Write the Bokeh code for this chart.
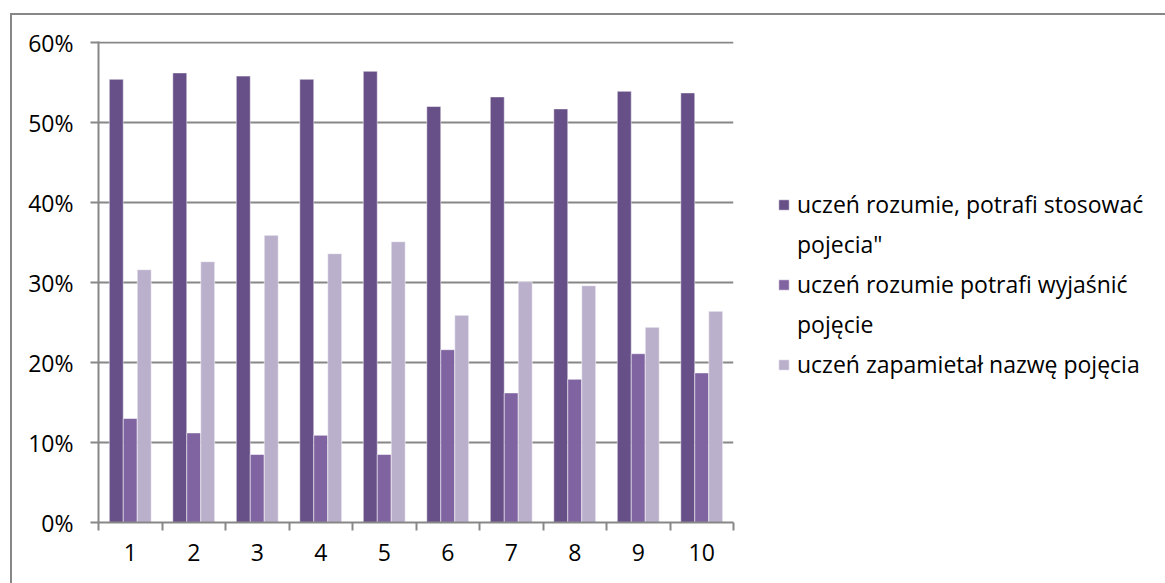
from bokeh.plotting import figure
from bokeh.models import (ColumnDataSource, Range1d, LinearAxis,
                          FixedTicker, Legend, LegendItem)
from bokeh.transform import dodge
from bokeh.embed import file_html
from bokeh.resources import INLINE

# ---- data ----
categories = ["1", "2", "3", "4", "5", "6", "7", "8", "9", "10"]
stosowac = [55.4, 56.2, 55.8, 55.4, 56.4, 52.0, 53.2, 51.7, 53.9, 53.7]
wyjasnic = [13.0, 11.2, 8.5, 10.9, 8.5, 21.6, 16.2, 17.9, 21.1, 18.7]
zapamietal = [31.6, 32.6, 35.9, 33.6, 35.1, 25.9, 30.1, 29.6, 24.4, 26.4]
y_ticks = [0, 10, 20, 30, 40, 50, 60]
y_tick_labels = ["0%", "10%", "20%", "30%", "40%", "50%", "60%"]
legend_lines = [
    ["uczeń rozumie, potrafi stosować", 'pojecia"'],
    ["uczeń rozumie potrafi wyjaśnić", "pojęcie"],
    ["uczeń zapamietał nazwę pojęcia"],
]
colors = ["#674f87", "#8064a2", "#bab0cc"]

FONT = "Open Sans"
GRAY = "#878787"

n = len(categories)
pos = list(range(1, n + 1))
src = ColumnDataSource(dict(x=pos, cat=categories, s=stosowac, w=wyjasnic, z=zapamietal))

p = figure(x_range=Range1d(0.5, n + 0.5), y_range=Range1d(0, 60.125),
           width=1152, height=568, frame_width=635, frame_height=481,
           min_border_left=86, min_border_right=431, min_border_top=26, min_border_bottom=61,
           x_axis_location=None, y_axis_location=None,
           output_backend="svg", toolbar_location=None)
p.styles = {"margin-left": "10px", "margin-top": "13px",
            "border-left": "2px solid " + GRAY, "border-top": "2px solid " + GRAY}
p.outline_line_color = None
p.background_fill_color = "white"
p.border_fill_color = "white"
p.xgrid.visible = False
p.ygrid.ticker = FixedTicker(ticks=y_ticks)
p.ygrid.grid_line_color = GRAY
p.ygrid.grid_line_width = 2

# y axis
yaxis = LinearAxis(ticker=FixedTicker(ticks=y_ticks))
yaxis.major_label_overrides = {t: l for t, l in zip(y_ticks, y_tick_labels)}
yaxis.axis_line_color = GRAY
yaxis.axis_line_width = 2
yaxis.major_tick_line_color = GRAY
yaxis.major_tick_line_width = 2
yaxis.major_tick_out = 8
yaxis.major_tick_in = 0
yaxis.minor_tick_line_color = None
yaxis.major_label_standoff = 17
yaxis.major_label_text_font = FONT
yaxis.major_label_text_font_size = "23px"
yaxis.major_label_text_color = "black"
p.add_layout(yaxis, "left")

# x axis: boundary ticks between categories
bounds = [x - 0.5 for x in pos] + [n + 0.5]
bx = LinearAxis(ticker=FixedTicker(ticks=bounds))
bx.major_label_overrides = {b: "" for b in bounds}
bx.major_label_text_font_size = "1px"
bx.major_label_standoff = 0
bx.axis_line_color = GRAY
bx.axis_line_width = 2
bx.major_tick_line_color = GRAY
bx.major_tick_line_width = 2
bx.major_tick_out = 8
bx.major_tick_in = 0
bx.minor_tick_line_color = None
p.add_layout(bx, "below")

# x axis: category labels at centres
cx = LinearAxis(ticker=FixedTicker(ticks=pos))
cx.major_label_overrides = {x: c for x, c in zip(pos, categories)}
cx.axis_line_color = None
cx.major_tick_line_color = None
cx.minor_tick_line_color = None
cx.major_label_standoff = 7
cx.major_label_text_font = FONT
cx.major_label_text_font_size = "23px"
cx.major_label_text_color = "black"
p.add_layout(cx, "below")

# bars
bw = 0.22
r1 = p.vbar(x=dodge("x", -0.22), top="s", width=bw, source=src,
            fill_color=colors[0], line_color="white", line_alpha=0.5, line_width=1)
r2 = p.vbar(x=dodge("x", 0.0), top="w", width=bw, source=src,
            fill_color=colors[1], line_color="white", line_alpha=0.5, line_width=1)
r3 = p.vbar(x=dodge("x", 0.22), top="z", width=bw, source=src,
            fill_color=colors[2], line_color="white", line_alpha=0.5, line_width=1)
blank = p.vbar(x=[], top=[], width=bw, fill_alpha=0, line_alpha=0)

items = []
for r, lines in zip([r1, r2, r3], legend_lines):
    items.append(LegendItem(label=lines[0], renderers=[r]))
    for extra in lines[1:]:
        items.append(LegendItem(label=extra, renderers=[blank]))

legend = Legend(items=items, location=(44, 138), orientation="vertical")
legend.padding = 0
legend.margin = 0
legend.spacing = 0
legend.border_line_color = None
legend.background_fill_alpha = 0
legend.glyph_width = 13
legend.glyph_height = 13
legend.label_height = 40
legend.label_standoff = 7
legend.label_text_font = FONT
legend.label_text_font_size = "23px"
legend.label_text_color = "black"
legend.label_text_baseline = "middle"
p.add_layout(legend, "right")

open("out.html", "w").write(file_html(p, INLINE))
